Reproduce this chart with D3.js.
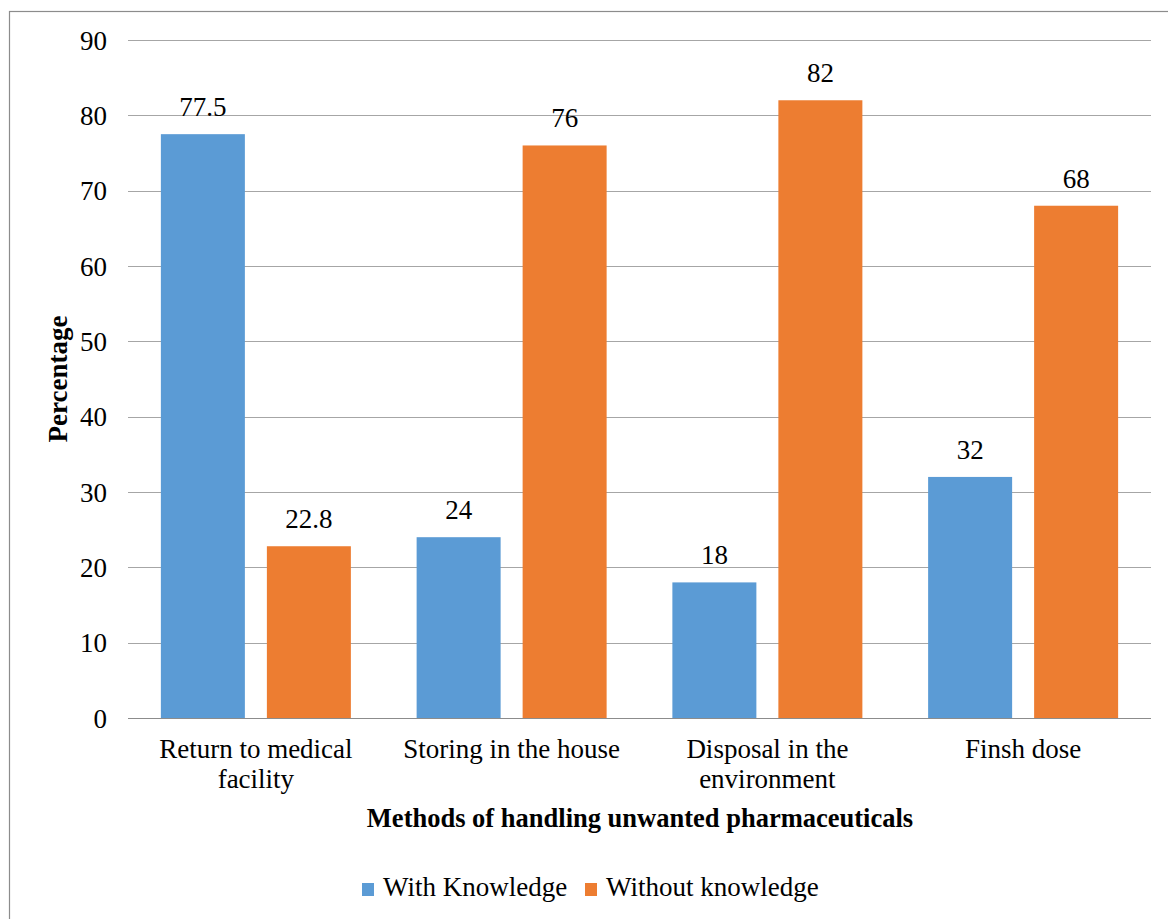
<!DOCTYPE html>
<html>
<head>
<meta charset="utf-8">
<script src="https://cdn.jsdelivr.net/npm/d3@7"></script>
<style>
  html, body { margin: 0; padding: 0; background: #fff; }
  svg { display: block; }
</style>
</head>
<body>
<svg id="chart" width="1168" height="919" font-family="'Liberation Serif', 'Times New Roman', serif"></svg>
<script>
// Chart data
const categories = [
  ["Return to medical", "facility"],
  ["Storing in the house"],
  ["Disposal in the", "environment"],
  ["Finsh dose"]
];
const seriesNames = ["With Knowledge", "Without knowledge"];
const withKnowledge = [77.5, 24, 18, 32];
const withoutKnowledge = [22.8, 76, 82, 68];
const yTicks = [0, 10, 20, 30, 40, 50, 60, 70, 80, 90];
const colors = ["#5b9bd5", "#ed7d31"];

const FONT = "'Liberation Serif', 'Times New Roman', serif";
const svg = d3.select("#chart");

// outer frame
svg.append("rect")
  .attr("x", 9.5).attr("y", 11.5)
  .attr("width", 1180).attr("height", 940)
  .attr("fill", "none").attr("stroke", "#8c8c8c").attr("stroke-width", 1.2);

const plot = { left: 128, right: 1151, top: 40, bottom: 718 };

const y = d3.scaleLinear().domain([0, 90]).range([plot.bottom, plot.top]);
const x0 = d3.scaleBand()
  .domain(d3.range(categories.length))
  .range([plot.left, plot.right])
  .paddingInner(0).paddingOuter(0);
const groupWidth = 190;
const x1 = d3.scaleBand()
  .domain([0, 1])
  .range([0, groupWidth])
  .paddingInner(22 / 106).paddingOuter(0);

// gridlines
svg.append("g")
  .selectAll("line")
  .data(yTicks.filter(d => d > 0))
  .join("line")
  .attr("x1", plot.left).attr("x2", plot.right)
  .attr("y1", d => Math.round(y(d)) + 0.5).attr("y2", d => Math.round(y(d)) + 0.5)
  .attr("stroke", "#a6a6a6").attr("stroke-width", 1.2);

// y axis labels
const yAxis = d3.axisLeft(y).tickValues(yTicks).tickSize(0).tickPadding(21);
const gy = svg.append("g").attr("transform", `translate(${plot.left},0)`).call(yAxis);
gy.select(".domain").remove();
gy.attr("font-family", FONT).attr("font-size", 27);
gy.selectAll("text").attr("fill", "#000").attr("dy", "0.34em");

// bars
const series = [withKnowledge, withoutKnowledge];
const groups = svg.append("g").selectAll("g")
  .data(categories.map((c, i) => i))
  .join("g")
  .attr("transform", i => `translate(${x0(i) + (x0.bandwidth() - groupWidth) / 2},0)`);

groups.selectAll("rect")
  .data(i => series.map((s, k) => ({ k, v: s[i] })))
  .join("rect")
  .attr("x", d => x1(d.k))
  .attr("width", x1.bandwidth())
  .attr("y", d => y(d.v))
  .attr("height", d => y(0) - y(d.v))
  .attr("fill", d => colors[d.k]);

groups.selectAll("text.val")
  .data(i => series.map((s, k) => ({ k, v: s[i] })))
  .join("text")
  .attr("class", "val")
  .attr("x", d => x1(d.k) + x1.bandwidth() / 2)
  .attr("y", d => y(d.v) - 18)
  .attr("text-anchor", "middle")
  .attr("font-family", FONT)
  .attr("font-size", 27)
  .text(d => d.v);

// baseline axis
svg.append("line")
  .attr("x1", plot.left).attr("x2", plot.right)
  .attr("y1", plot.bottom + 0.5).attr("y2", plot.bottom + 0.5)
  .attr("stroke", "#8c8c8c").attr("stroke-width", 1.2);

// category labels
const catG = svg.append("g").selectAll("text")
  .data(categories)
  .join("text")
  .attr("text-anchor", "middle")
  .attr("x", (d, i) => x0(i) + x0.bandwidth() / 2)
  .attr("y", 758)
  .attr("font-family", FONT)
  .attr("font-size", 27);
catG.selectAll("tspan")
  .data(d => d)
  .join("tspan")
  .attr("x", function () { return d3.select(this.parentNode).attr("x"); })
  .attr("dy", (d, j) => j === 0 ? 0 : 30)
  .text(d => d);

// axis titles
svg.append("text")
  .attr("x", 640).attr("y", 827)
  .attr("text-anchor", "middle")
  .attr("font-family", FONT)
  .attr("font-size", 26.5).attr("font-weight", "bold")
  .text("Methods of handling  unwanted pharmaceuticals");

svg.append("text")
  .attr("transform", `translate(67,${379}) rotate(-90)`)
  .attr("text-anchor", "middle")
  .attr("font-family", FONT)
  .attr("font-size", 27).attr("font-weight", "bold")
  .text("Percentage");

// legend
const legendItems = [
  { name: seriesNames[0], color: colors[0], x: 362 },
  { name: seriesNames[1], color: colors[1], x: 585 }
];
const lg = svg.append("g").selectAll("g").data(legendItems).join("g")
  .attr("transform", d => `translate(${d.x},0)`);
lg.append("rect").attr("x", 0).attr("y", 883).attr("width", 12).attr("height", 13)
  .attr("fill", d => d.color);
lg.append("text").attr("x", 21).attr("y", 896)
  .attr("font-family", FONT)
  .attr("font-size", 27).text(d => d.name);
</script>
</body>
</html>
